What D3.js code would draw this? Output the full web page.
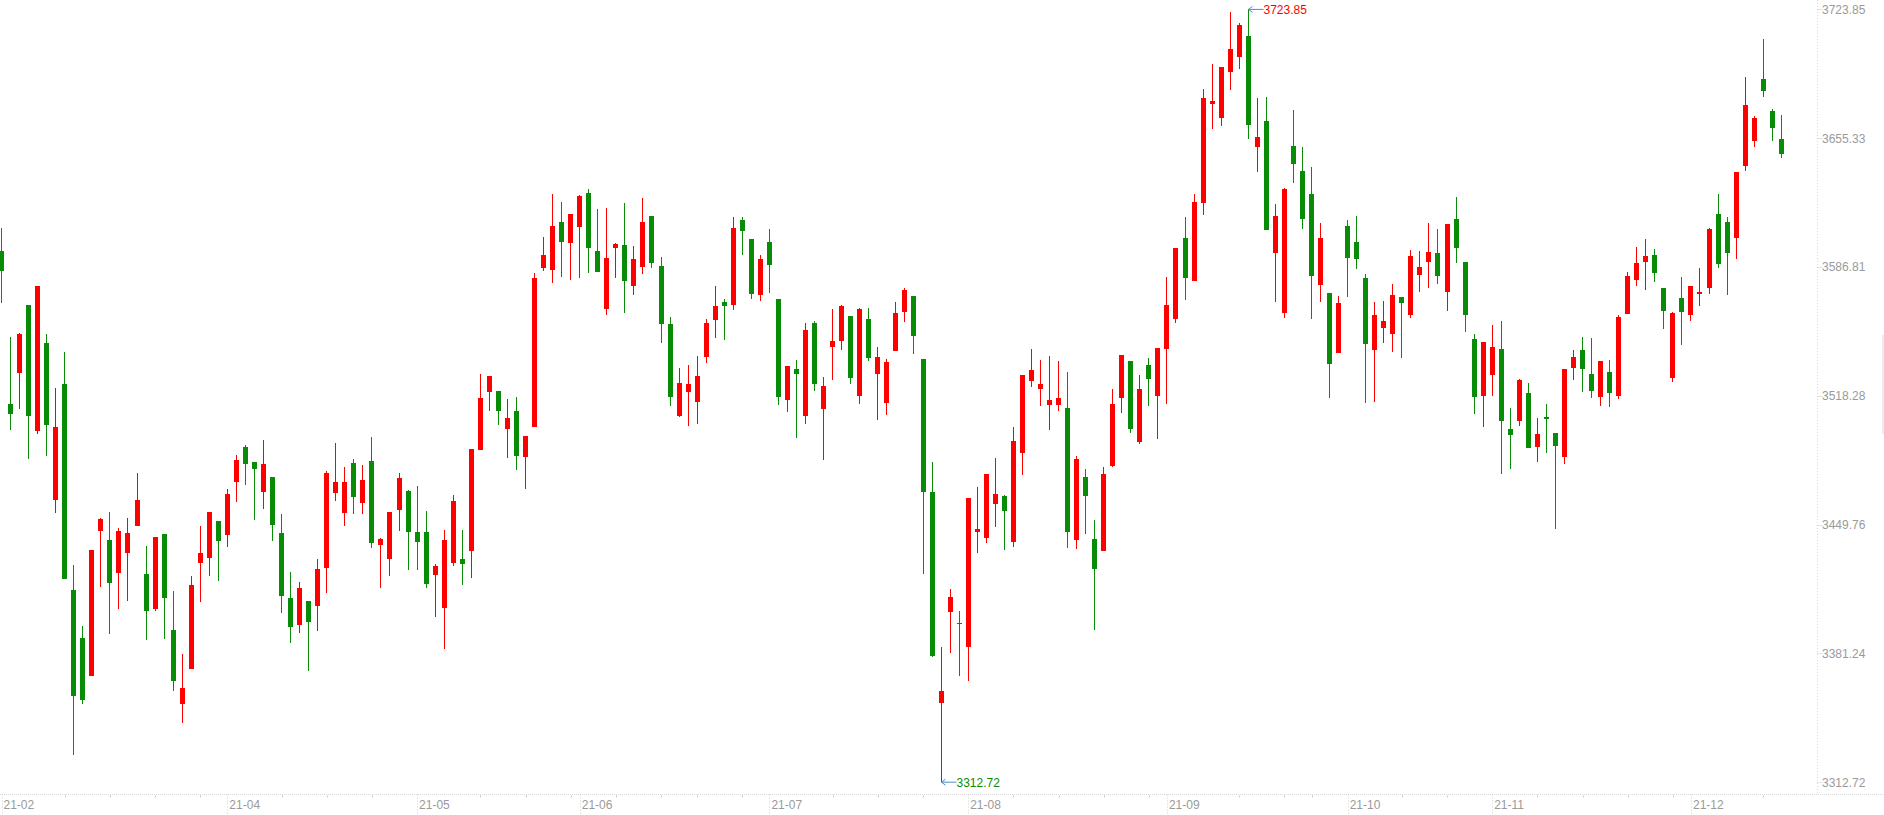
<!DOCTYPE html>
<html>
<head>
<meta charset="utf-8">
<script src="https://cdn.jsdelivr.net/npm/d3@7"></script>
<style>
html,body{margin:0;padding:0;background:#fff;overflow:hidden}
svg{display:block}
</style>
</head>
<body>
<svg id="chart" width="1884" height="815"></svg>
<script>
// ---- categories: trading days ----
const dates = [
"2021-02-25","2021-02-26",
"2021-03-01","2021-03-02","2021-03-03","2021-03-04","2021-03-05","2021-03-08","2021-03-09","2021-03-10","2021-03-11","2021-03-12",
"2021-03-15","2021-03-16","2021-03-17","2021-03-18","2021-03-19","2021-03-22","2021-03-23","2021-03-24","2021-03-25","2021-03-26",
"2021-03-29","2021-03-30","2021-03-31",
"2021-04-01","2021-04-02","2021-04-06","2021-04-07","2021-04-08","2021-04-09","2021-04-12","2021-04-13","2021-04-14","2021-04-15",
"2021-04-16","2021-04-19","2021-04-20","2021-04-21","2021-04-22","2021-04-23","2021-04-26","2021-04-27","2021-04-28","2021-04-29","2021-04-30",
"2021-05-06","2021-05-07","2021-05-10","2021-05-11","2021-05-12","2021-05-13","2021-05-14","2021-05-17","2021-05-18","2021-05-19",
"2021-05-20","2021-05-21","2021-05-24","2021-05-25","2021-05-26","2021-05-27","2021-05-28","2021-05-31",
"2021-06-01","2021-06-02","2021-06-03","2021-06-04","2021-06-07","2021-06-08","2021-06-09","2021-06-10","2021-06-11","2021-06-15",
"2021-06-16","2021-06-17","2021-06-18","2021-06-21","2021-06-22","2021-06-23","2021-06-24","2021-06-25","2021-06-28","2021-06-29","2021-06-30",
"2021-07-01","2021-07-02","2021-07-05","2021-07-06","2021-07-07","2021-07-08","2021-07-09","2021-07-12","2021-07-13","2021-07-14",
"2021-07-15","2021-07-16","2021-07-19","2021-07-20","2021-07-21","2021-07-22","2021-07-23","2021-07-26","2021-07-27","2021-07-28",
"2021-07-29","2021-07-30",
"2021-08-02","2021-08-03","2021-08-04","2021-08-05","2021-08-06","2021-08-09","2021-08-10","2021-08-11","2021-08-12","2021-08-13",
"2021-08-16","2021-08-17","2021-08-18","2021-08-19","2021-08-20","2021-08-23","2021-08-24","2021-08-25","2021-08-26","2021-08-27",
"2021-08-30","2021-08-31",
"2021-09-01","2021-09-02","2021-09-03","2021-09-06","2021-09-07","2021-09-08","2021-09-09","2021-09-10","2021-09-13","2021-09-14",
"2021-09-15","2021-09-16","2021-09-17","2021-09-22","2021-09-23","2021-09-24","2021-09-27","2021-09-28","2021-09-29","2021-09-30",
"2021-10-08","2021-10-11","2021-10-12","2021-10-13","2021-10-14","2021-10-15","2021-10-18","2021-10-19","2021-10-20","2021-10-21",
"2021-10-22","2021-10-25","2021-10-26","2021-10-27","2021-10-28","2021-10-29",
"2021-11-01","2021-11-02","2021-11-03","2021-11-04","2021-11-05","2021-11-08","2021-11-09","2021-11-10","2021-11-11","2021-11-12",
"2021-11-15","2021-11-16","2021-11-17","2021-11-18","2021-11-19","2021-11-22","2021-11-23","2021-11-24","2021-11-25","2021-11-26",
"2021-11-29","2021-11-30",
"2021-12-01","2021-12-02","2021-12-03","2021-12-06","2021-12-07","2021-12-08","2021-12-09","2021-12-10","2021-12-13","2021-12-14","2021-12-15"
];

// ---- series values ----
const open = [
3595.3,3514.0,3530.6,3566.5,3499.4,3546.4,3462.6,3524.5,3415.0,3389.6,
3369.1,3446.5,3441.6,3423.9,3434.9,3448.8,3423.6,3405.1,3444.9,3393.7,
3354.2,3372.7,3429.1,3431.9,3451.8,3444.1,3472.3,3491.1,3483.0,3467.0,
3475.0,3445.4,3410.6,3396.2,3409.2,3406.2,3426.9,3466.5,3455.7,3482.5,
3461.5,3483.6,3439.1,3431.3,3457.3,3467.6,3445.7,3445.7,3422.8,3405.6,
3429.1,3431.6,3435.5,3489.7,3520.1,3520.9,3500.5,3510.1,3485.5,3501.8,
3586.4,3585.1,3610.8,3599.4,3608.3,3626.3,3595.3,3564.6,3596.7,3598.6,
3576.5,3587.0,3613.8,3587.3,3556.6,3507.6,3520.1,3514.8,3538.9,3558.8,
3568.2,3566.8,3611.9,3601.7,3572.1,3600.0,3569.9,3516.2,3532.5,3507.6,
3557.1,3511.2,3544.4,3547.2,3560.7,3518.4,3559.1,3529.8,3514.3,3542.2,
3562.9,3571.5,3538.1,3467.0,3355.0,3403.1,3397.6,3384.6,3446.0,3442.4,
3460.9,3465.1,3440.5,3487.7,3526.2,3522.0,3513.5,3513.5,3511.8,3441.6,
3475.0,3442.1,3435.8,3481.1,3517.1,3536.7,3493.8,3534.7,3518.2,3543.3,
3559.1,3602.2,3579.3,3621.0,3673.3,3666.1,3690.7,3698.7,3709.8,3650.6,
3664.4,3594.2,3562.4,3651.1,3637.9,3625.7,3577.3,3572.9,3541.1,3608.6,
3600.0,3580.9,3542.8,3554.4,3551.1,3571.0,3561.3,3582.6,3589.5,3594.2,
3573.4,3612.4,3589.5,3548.6,3518.2,3529.5,3543.3,3500.7,3504.9,3519.8,
3491.1,3506.8,3498.5,3485.8,3533.1,3542.8,3529.8,3517.6,3530.9,3518.2,
3561.8,3579.8,3589.5,3593.1,3575.7,3527.8,3570.4,3561.3,3572.3,3575.7,
3614.9,3610.8,3602.2,3640.6,3653.9,3686.8,3669.7,3655.0
];
const high = [
3607.7,3549.7,3551.6,3566.5,3576.8,3551.1,3522.6,3541.7,3428.3,3395.9,
3436.3,3453.2,3456.5,3447.9,3453.2,3477.2,3438.5,3443.2,3444.9,3414.5,
3381.0,3422.5,3449.0,3456.5,3451.8,3468.9,3486.6,3492.2,3483.0,3494.7,
3475.0,3455.4,3424.7,3419.2,3409.2,3431.6,3478.3,3493.3,3480.6,3484.7,
3481.4,3496.3,3442.7,3456.5,3477.2,3468.1,3470.3,3457.1,3428.9,3446.8,
3465.6,3446.8,3490.0,3529.8,3528.9,3520.9,3516.5,3517.6,3496.9,3583.7,
3602.8,3625.7,3621.3,3614.9,3625.2,3628.2,3617.7,3618.2,3599.4,3620.7,
3598.1,3623.5,3613.8,3592.3,3560.2,3533.1,3534.7,3539.4,3559.1,3576.8,
3569.6,3613.5,3613.5,3601.7,3593.1,3606.9,3569.9,3534.2,3537.2,3557.1,
3558.0,3528.4,3564.6,3566.5,3560.7,3564.9,3564.9,3544.1,3537.8,3568.2,
3575.4,3571.5,3538.1,3483.0,3384.6,3415.6,3403.7,3464.0,3469.8,3476.7,
3485.3,3465.3,3501.6,3529.5,3543.3,3537.5,3539.4,3536.7,3530.9,3486.1,
3479.4,3452.4,3480.6,3522.0,3540.0,3536.7,3529.5,3538.3,3543.6,3581.5,
3596.9,3613.5,3625.7,3681.6,3694.8,3693.2,3722.7,3716.4,3723.85,3676.6,
3677.1,3620.5,3628.7,3670.2,3650.6,3640.1,3610.2,3572.9,3571.5,3611.9,
3613.8,3583.1,3568.2,3568.8,3577.9,3571.0,3595.8,3595.3,3610.2,3606.9,
3609.9,3624.0,3589.5,3551.1,3546.9,3556.0,3558.0,3511.8,3527.3,3525.1,
3506.5,3514.0,3498.5,3532.8,3542.8,3549.7,3549.1,3536.7,3537.2,3561.3,
3584.2,3597.5,3601.7,3596.4,3575.7,3562.9,3581.5,3576.8,3586.2,3607.5,
3625.7,3613.5,3637.3,3687.9,3667.2,3708.1,3670.8,3667.7
];
const low = [
3567.9,3499.9,3511.2,3484.7,3498.0,3486.4,3455.9,3420.6,3327.4,3354.2,
3369.1,3416.4,3391.5,3404.8,3409.2,3448.8,3388.5,3403.7,3389.0,3361.4,
3344.0,3372.7,3408.7,3422.5,3419.7,3438.0,3461.8,3470.9,3452.4,3458.2,
3441.0,3402.9,3386.8,3392.1,3371.9,3393.2,3413.4,3462.3,3449.0,3455.4,
3455.4,3437.4,3416.1,3422.5,3446.3,3425.5,3425.5,3415.9,3400.7,3383.5,
3427.5,3417.5,3421.4,3489.7,3510.1,3502.7,3485.3,3478.9,3468.7,3501.8,
3584.8,3578.4,3581.5,3579.8,3580.9,3583.7,3584.0,3561.3,3580.9,3562.4,
3571.8,3583.1,3586.2,3546.4,3512.9,3506.8,3502.1,3503.2,3535.9,3549.1,
3548.0,3564.1,3593.1,3569.9,3568.8,3572.9,3513.5,3509.6,3495.8,3503.2,
3520.6,3484.1,3526.7,3542.5,3524.5,3513.7,3537.0,3505.4,3508.2,3542.2,
3557.4,3540.5,3423.6,3379.4,3312.72,3381.6,3369.1,3366.6,3434.9,3439.9,
3448.5,3436.0,3438.0,3476.4,3522.9,3512.6,3500.2,3510.1,3437.4,3436.9,
3444.9,3393.7,3435.8,3480.6,3509.0,3498.5,3492.7,3512.6,3495.2,3514.0,
3557.1,3569.0,3579.3,3614.6,3660.3,3661.7,3681.0,3692.1,3655.0,3637.3,
3606.3,3568.2,3559.9,3631.5,3606.9,3559.1,3568.2,3517.1,3541.1,3571.0,
3585.6,3514.6,3515.1,3546.4,3541.7,3538.3,3559.6,3573.4,3575.7,3577.9,
3563.5,3588.9,3552.2,3508.5,3501.6,3518.2,3476.7,3479.4,3502.1,3490.5,
3483.0,3487.7,3447.4,3481.9,3526.7,3520.4,3517.1,3512.9,3512.3,3516.5,
3561.8,3576.8,3574.6,3578.7,3553.8,3525.6,3545.3,3558.0,3566.0,3572.3,
3586.2,3571.8,3591.1,3637.9,3650.6,3677.1,3653.9,3644.8
];
const close = [
3584.5,3508.5,3551.1,3507.6,3576.8,3502.9,3501.6,3420.6,3358.4,3356.7,
3436.3,3452.6,3418.9,3446.3,3445.4,3462.9,3404.0,3443.2,3410.6,3366.4,
3362.8,3417.8,3434.7,3456.5,3441.3,3466.2,3484.1,3482.2,3479.2,3481.9,
3449.6,3411.7,3395.4,3416.1,3398.2,3426.1,3477.2,3472.5,3472.5,3464.2,
3473.6,3440.2,3442.1,3456.5,3474.5,3446.0,3440.7,3418.1,3427.7,3441.6,
3462.3,3428.6,3490.0,3517.1,3528.9,3510.4,3506.5,3486.1,3496.9,3580.9,
3593.1,3608.6,3600.3,3614.9,3624.6,3596.7,3584.0,3591.7,3599.2,3579.3,
3591.1,3610.8,3588.9,3556.3,3517.6,3525.1,3524.5,3528.9,3557.1,3566.0,
3566.3,3607.5,3605.8,3572.3,3591.1,3587.8,3517.9,3534.2,3529.8,3553.3,
3524.5,3523.4,3547.5,3566.0,3527.8,3564.6,3538.6,3538.9,3536.4,3562.4,
3574.6,3549.9,3467.0,3379.9,3361.4,3411.2,3396.8,3464.0,3447.4,3476.7,
3466.2,3457.1,3494.4,3529.5,3532.0,3524.5,3515.9,3517.1,3445.7,3484.7,
3464.8,3426.1,3476.7,3514.0,3540.0,3500.7,3522.0,3527.3,3543.6,3566.5,
3596.9,3580.9,3621.3,3676.6,3675.2,3693.2,3702.8,3715.6,3662.2,3655.8,
3606.3,3613.8,3628.2,3641.5,3612.4,3582.0,3602.2,3535.3,3567.6,3591.7,
3591.1,3545.8,3561.3,3558.0,3571.8,3567.4,3592.5,3586.7,3594.7,3582.0,
3609.9,3596.9,3561.3,3517.6,3546.9,3544.1,3504.9,3497.4,3526.7,3490.5,
3498.0,3506.0,3491.6,3532.3,3538.9,3532.5,3520.9,3536.7,3519.8,3560.2,
3582.0,3588.9,3592.5,3583.7,3563.5,3562.4,3562.9,3576.8,3573.4,3606.9,
3588.4,3594.2,3637.3,3673.0,3666.1,3680.4,3660.8,3647.0
];

// ---- styles ----
const UP = "#ff0000", DOWN = "#088c08";
const AXIS_TEXT = "#9a9a9a", AXIS_LINE = "#d8d8d8";
const FONT = "'Liberation Sans', Arial, sans-serif";

const svg = d3.select("#chart");
const W = 1884, H = 815;
const axisX = 1817.5, axisY = 794.5;

const parse = d3.timeParse("%Y-%m-%d");
const dts = dates.map(parse);
const n = dates.length;

const x = d3.scaleLinear().domain([0, n - 1]).range([1.5, 1781.3]);
const yMin = d3.min(low), yMax = d3.max(high);
const y = d3.scaleLinear().domain([yMin, yMax]).range([782.2, 9.4]);
const yTicks = d3.range(7).map(k => yMin + k * (yMax - yMin) / 6);

svg.append("rect").attr("width", W).attr("height", H).attr("fill", "#fff");

// ---- axes lines ----
svg.append("line").attr("x1", 0).attr("x2", W).attr("y1", axisY).attr("y2", axisY)
  .attr("stroke", AXIS_LINE).attr("stroke-dasharray", "1,1");
svg.append("line").attr("x1", axisX).attr("x2", axisX).attr("y1", 0).attr("y2", axisY)
  .attr("stroke", AXIS_LINE).attr("stroke-dasharray", "1,2");

// ---- y axis ticks & labels ----
const yg = svg.append("g");
yTicks.forEach(v => {
  const yy = Math.round(y(v)) + 0.5;
  yg.append("line").attr("x1", axisX).attr("x2", axisX + 5).attr("y1", yy).attr("y2", yy)
    .attr("stroke", "#c8c8c8").attr("stroke-dasharray", "1,1");
  yg.append("text").attr("x", 1822).attr("y", y(v)).attr("dy", "0.36em")
    .attr("font-family", FONT).attr("font-size", 12).attr("fill", AXIS_TEXT)
    .text(v.toFixed(2));
});

// ---- x axis: month labels & weekly minor ticks ----
const monthIdx = [];
dts.forEach((d, i) => { if (i === 0 || d.getMonth() !== dts[i - 1].getMonth()) monthIdx.push(i); });
const shown = [];
monthIdx.forEach(i => {
  if (!shown.length || x(i) - x(shown[shown.length - 1]) > 40) shown.push(i);
});
const weekIdx = [];
dts.forEach((d, i) => {
  if (i > 0 && +d3.timeMonday.floor(d) !== +d3.timeMonday.floor(dts[i - 1])) weekIdx.push(i);
});
const xg = svg.append("g");
weekIdx.forEach(i => {
  const xx = x(i);
  if (shown.some(m => xx >= x(m) - 1 && xx <= x(m) + 36)) return;
  const px = Math.round(xx) + 0.5;
  xg.append("line").attr("x1", px).attr("x2", px).attr("y1", axisY + 1).attr("y2", axisY + 3)
    .attr("stroke", "#c8c8c8");
});
const fmtMonth = d3.timeFormat("%y-%m");
shown.forEach(i => {
  const px = Math.round(x(i)) + 0.5;
  xg.append("line").attr("x1", px).attr("x2", px).attr("y1", axisY).attr("y2", H)
    .attr("stroke", "#d0d0d0").attr("stroke-dasharray", "1,2");
  xg.append("text").attr("x", x(i) + 2).attr("y", 809)
    .attr("font-family", FONT).attr("font-size", 12).attr("fill", AXIS_TEXT)
    .text(fmtMonth(dts[i]));
});

// ---- candles ----
const cg = svg.append("g").attr("shape-rendering", "crispEdges");
const idx = d3.range(n);
const col = i => close[i] >= open[i] ? UP : DOWN;
cg.selectAll("line.w").data(idx).join("line").attr("class", "w")
  .attr("x1", i => Math.floor(x(i)) + 0.5).attr("x2", i => Math.floor(x(i)) + 0.5)
  .attr("y1", i => y(high[i])).attr("y2", i => y(low[i]))
  .attr("stroke", col).attr("stroke-width", 1);
cg.selectAll("rect.b").data(idx).join("rect").attr("class", "b")
  .attr("x", i => Math.floor(x(i)) - 2)
  .attr("width", 5)
  .attr("y", i => Math.min(y(open[i]), y(close[i])))
  .attr("height", i => Math.max(1, Math.abs(y(open[i]) - y(close[i]))))
  .attr("fill", col);

// ---- max / min annotations ----
function annotate(i, v, color) {
  const tx = Math.floor(x(i)) + 0.5, ty = y(v);
  const g = svg.append("g");
  g.append("path")
    .attr("d", `M${tx},${ty}L${tx + 15},${ty}M${tx + 4},${ty - 3}L${tx},${ty}L${tx + 4},${ty + 3}`)
    .attr("stroke", "#4a8fc8").attr("fill", "none").attr("stroke-width", 1);
  g.append("text").attr("x", tx + 15).attr("y", ty).attr("dy", "0.36em")
    .attr("font-family", FONT).attr("font-size", 12).attr("fill", color)
    .text(v.toFixed(2));
}
const iMax = d3.maxIndex(high), iMin = d3.minIndex(low);
annotate(iMax, high[iMax], UP);
annotate(iMin, low[iMin], DOWN);

// faint scroll indicator at right edge
svg.append("rect").attr("x", 1882).attr("y", 335).attr("width", 2).attr("height", 99).attr("fill", "#ececec");
</script>
</body>
</html>
